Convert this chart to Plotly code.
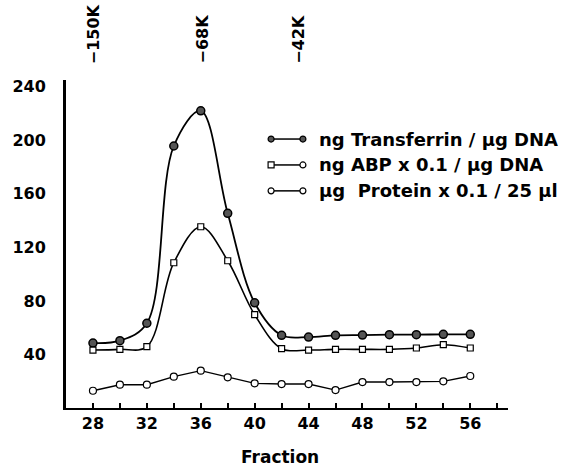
import plotly.graph_objects as go

# ---- data ----
fractions = [28, 30, 32, 34, 36, 38, 40, 42, 44, 46, 48, 50, 52, 54, 56]
transferrin = [48.5, 50.3, 63.3, 195.7, 222.0, 145.4, 78.6, 54.3, 53.0, 54.3, 54.5, 54.8, 54.8, 55.0, 55.0]
abp = [43.3, 43.8, 45.8, 108.5, 135.4, 110.0, 69.7, 44.3, 43.3, 43.8, 43.8, 43.8, 44.8, 47.3, 44.8]
protein = [12.9, 17.4, 17.4, 23.4, 27.9, 22.9, 18.4, 17.9, 17.9, 13.4, 19.4, 19.4, 19.4, 19.9, 23.9]

x_tick_vals = [28, 30, 32, 34, 36, 38, 40, 42, 44, 46, 48, 50, 52, 54, 56, 58]
x_tick_text = ["28", "", "32", "", "36", "", "40", "", "44", "", "48", "", "52", "", "56", ""]
y_tick_vals = [40, 80, 120, 160, 200, 240]
y_tick_text = ["40", "80", "120", "160", "200", "240"]

mw_positions = [28.1, 36.1, 43.25]
mw_labels = ["\u2212150K", "\u221268K", "\u221242K"]

legend_labels = ["ng Transferrin / \u00b5g DNA", "ng ABP x 0.1 / \u00b5g DNA", "\u00b5g  Protein x 0.1 / 25 \u00b5l"]
legend_rows = [0.820, 0.741, 0.662]   # positions on the overlay (0..1) axis
legend_glyph_x = [0.464, 0.536]
legend_text_x = 0.567

FONT = "DejaVu Sans"
fig = go.Figure()

fig.add_trace(go.Scatter(
    x=fractions, y=transferrin, mode="lines+markers",
    line=dict(color="black", width=1.8, shape="spline", smoothing=1.0),
    marker=dict(symbol="circle", size=8, color="#555555", line=dict(color="black", width=1.5)),
    showlegend=False))
fig.add_trace(go.Scatter(
    x=fractions, y=abp, mode="lines+markers",
    line=dict(color="black", width=1.6, shape="spline", smoothing=1.0),
    marker=dict(symbol="square", size=6, color="white", line=dict(color="black", width=1.2)),
    showlegend=False))
fig.add_trace(go.Scatter(
    x=fractions, y=protein, mode="lines+markers",
    line=dict(color="black", width=1.4),
    marker=dict(symbol="circle", size=7, color="white", line=dict(color="black", width=1.2)),
    showlegend=False))

# hand-drawn style legend on an overlay axis
glyphs = [
    (["circle", "circle"], "#555555"),
    (["square", "circle"], "white"),
    (["circle", "circle"], "white"),
]
for (syms, fill), ry, lab in zip(glyphs, legend_rows, legend_labels):
    fig.add_trace(go.Scatter(
        x=legend_glyph_x, y=[ry, ry], mode="lines+markers", xaxis="x2", yaxis="y2",
        line=dict(color="black", width=1.5),
        marker=dict(symbol=syms, size=6, color=fill, line=dict(color="black", width=1.2)),
        showlegend=False, hoverinfo="skip"))
    fig.add_annotation(x=legend_text_x, y=ry, xref="x2", yref="y2", text=lab,
                       showarrow=False, xanchor="left", yanchor="middle",
                       font=dict(family=FONT, size=18, color="black", weight="bold"))

for pos, lab in zip(mw_positions, mw_labels):
    fig.add_annotation(x=pos, y=1.043, xref="x", yref="paper", text=lab, textangle=-90,
                       showarrow=False, xanchor="center", yanchor="bottom",
                       font=dict(family=FONT, size=16, color="black", weight="bold"))

fig.add_annotation(x=0.484, y=-0.149, xref="paper", yref="paper", text="Fraction",
                   showarrow=False, xanchor="center", yanchor="middle",
                   font=dict(family=FONT, size=17, color="black", weight="bold"))

fig.update_layout(
    width=567, height=466,
    margin=dict(l=66, r=59, t=80, b=58),
    paper_bgcolor="white", plot_bgcolor="white",
    font=dict(family=FONT, size=16, color="black", weight="bold"),
    xaxis=dict(range=[26, 58.8], tickvals=x_tick_vals, ticktext=x_tick_text,
               ticks="inside", ticklen=5, tickwidth=1.5, tickcolor="black",
               showline=True, linewidth=2, linecolor="black",
               showgrid=False, zeroline=False,
               tickfont=dict(family=FONT, size=16, color="black", weight="bold")),
    yaxis=dict(range=[0, 245], tickvals=y_tick_vals, ticktext=y_tick_text,
               ticks="", showline=True, linewidth=3, linecolor="black",
               showgrid=False, zeroline=False, ticklabelstandoff=14,
               tickfont=dict(family=FONT, size=16, color="black", weight="bold")),
    xaxis2=dict(range=[0, 1], overlaying="x", visible=False),
    yaxis2=dict(range=[0, 1], overlaying="y", visible=False),
)

fig.write_html("out.html")
